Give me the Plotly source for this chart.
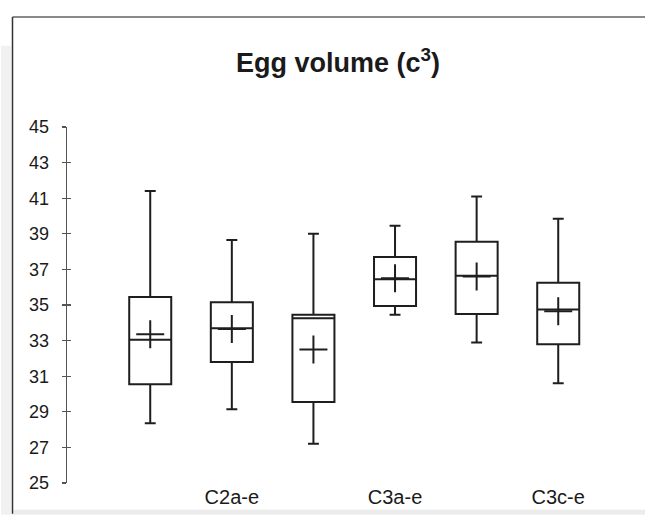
import plotly.graph_objects as go

# ---- data ----
positions = [1, 2, 3, 4, 5, 6]
tick_labels = ["", "C2a-e", "", "C3a-e", "", "C3c-e"]
whisker_low = [28.35, 29.15, 27.2, 34.45, 32.9, 30.6]
q1_vals = [30.55, 31.8, 29.55, 34.95, 34.5, 32.8]
median_vals = [33.05, 33.7, 34.25, 36.45, 36.65, 34.75]
q3_vals = [35.45, 35.15, 34.45, 37.7, 38.55, 36.25]
whisker_high = [41.4, 38.65, 39.0, 39.45, 41.1, 39.85]
mean_vals = [33.35, 33.65, 32.5, 36.5, 36.6, 34.65]
y_ticks = list(range(25, 46, 2))

W, H = 647, 520
ML, MR, MT, MB = 67, 21, 127, 34
PW, PH = W - ML - MR, H - MT - MB
X_RANGE = [-0.02, -0.02 + PW / 81.6]

def px(x):
    return (x - ML) / PW

def py(y):
    return (H - MB - y) / PH

FONT = "Liberation Sans, Arial, sans-serif"

fig = go.Figure()
fig.add_trace(go.Box(
    x=positions, q1=q1_vals, median=median_vals, q3=q3_vals,
    lowerfence=whisker_low, upperfence=whisker_high,
    boxpoints=False, width=0.515, whiskerwidth=0.26,
    fillcolor="rgba(0,0,0,0)",
    line=dict(color="#1e1e1e", width=2),
    showlegend=False, hoverinfo="skip",
))
fig.add_trace(go.Scatter(
    x=positions, y=mean_vals, mode="markers",
    marker=dict(symbol="cross-thin", size=20,
                line=dict(color="#1e1e1e", width=2)),
    showlegend=False, hoverinfo="skip",
))
# invisible trace so the inner-tick axis is drawn
fig.add_trace(go.Scatter(x=positions, y=mean_vals, yaxis="y2", mode="markers",
                         marker=dict(opacity=0), showlegend=False, hoverinfo="skip"))

# scanned-page frame (decoration only)
shapes = [
    dict(type="rect", xref="paper", yref="paper",
         x0=px(1), x1=px(11), y0=py(518), y1=py(45),
         fillcolor="#f1f1f1", line=dict(width=0), layer="below"),
    dict(type="rect", xref="paper", yref="paper",
         x0=px(12), x1=px(645), y0=py(518), y1=py(513),
         fillcolor="#ececec", line=dict(width=0), layer="below"),
    dict(type="line", xref="paper", yref="paper",
         x0=px(12.5), x1=px(645), y0=py(16), y1=py(16),
         line=dict(color="#8a8a8a", width=2)),
    dict(type="line", xref="paper", yref="paper",
         x0=px(12.5), x1=px(12.5), y0=py(16), y1=py(517),
         line=dict(color="#333", width=1.5)),
]

yaxis_common = dict(range=[25, 45], tickvals=y_ticks, showgrid=False,
                    zeroline=False, ticklen=4, tickwidth=1.3, tickcolor="#555")

fig.update_layout(
    width=W, height=H,
    margin=dict(l=ML, r=MR, t=MT, b=MB),
    paper_bgcolor="white", plot_bgcolor="white",
    dragmode=False,
    title=dict(text="<b>Egg volume (c<sup>3</sup>)</b>",
               font=dict(family=FONT, size=27, color="#1a1a1a"),
               x=338 / W, xanchor="center",
               y=1 - 63 / H, yanchor="middle", xref="container", yref="container"),
    xaxis=dict(range=X_RANGE,
               tickvals=[p for p, t in zip(positions, tick_labels) if t],
               ticktext=[t for t in tick_labels if t],
               showline=False, showgrid=False, zeroline=False, ticks="",
               tickfont=dict(family=FONT, size=20, color="#1a1a1a")),
    yaxis=dict(**yaxis_common, showline=True, linecolor="#555", linewidth=1.3,
               ticks="outside", ticklabelstandoff=9,
               tickfont=dict(family=FONT, size=18, color="#1a1a1a")),
    yaxis2=dict(**yaxis_common, overlaying="y", side="left", anchor="x",
                showline=False, ticks="inside", showticklabels=False),
    shapes=shapes,
)

fig.write_html("out.html", config={"staticPlot": True})
